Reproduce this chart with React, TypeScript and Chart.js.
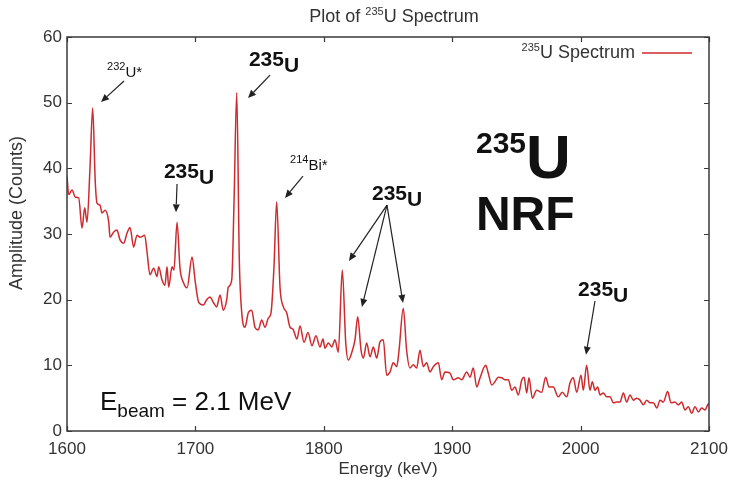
import React, { useEffect, useRef } from "react";
import { Chart, registerables } from "chart.js";

Chart.register(...registerables);

const FONT = '"Liberation Sans", Arial, Helvetica, sans-serif';

// Gamma energies of the measured channels (keV)
const energyKeV = [
  1600, 1601.3, 1603.9, 1606.5, 1609.1, 1611.7, 1613.8, 1615.6, 1617.9, 1620.0,
  1622.0, 1623.4, 1625.7, 1627.3, 1629.6, 1632.5, 1633.5, 1636.4, 1638.9, 1641.3,
  1644.2, 1646.7, 1649.1, 1651.9, 1654.5, 1656.9, 1660.5, 1662.3, 1664.6, 1667.5,
  1670.1, 1671.4, 1674.0, 1676.3, 1677.9, 1679.2, 1681.8, 1683.3, 1685.7, 1688.0,
  1690.9, 1693.5, 1697.4, 1699.9, 1702.6, 1706.2, 1708.8, 1711.4, 1713.9, 1716.6,
  1719.2, 1721.7, 1724.4, 1725.6, 1728.3, 1730.1, 1732.2, 1734.2, 1736.1, 1738.6,
  1741.2, 1743.8, 1746.4, 1749.0, 1751.6, 1754.2, 1756.8, 1758.9, 1761.2, 1763.3,
  1765.9, 1768.5, 1771.1, 1773.7, 1776.0, 1779.1, 1781.5, 1784.6, 1787.7, 1790.8,
  1793.9, 1797.0, 1799.4, 1800.9, 1803.5, 1806.2, 1808.7, 1811.3, 1814.4, 1817.1,
  1819.1, 1821.7, 1824.3, 1826.4, 1829.0, 1830.8, 1833.4, 1836.0, 1838.6, 1841.2,
  1843.8, 1846.3, 1849.0, 1851.6, 1854.1, 1856.8, 1858.6, 1861.9, 1864.5, 1867.1,
  1869.7, 1872.3, 1874.9, 1877.5, 1880.1, 1882.7, 1885.3, 1889.2, 1891.8, 1894.4,
  1898.3, 1900.9, 1904.7, 1907.4, 1911.3, 1913.9, 1916.4, 1919.1, 1921.7, 1926.1,
  1928.1, 1930.8, 1933.3, 1935.9, 1938.6, 1941.1, 1943.7, 1946.4, 1948.9, 1951.5,
  1954.2, 1956.0, 1958.0, 1959.8, 1962.4, 1965.8, 1969.7, 1972.8, 1975.4, 1978.7,
  1982.6, 1985.7, 1989.2, 1991.7, 1994.3, 1997.0, 2000.3, 2002.1, 2004.7, 2007.3,
  2009.1, 2011.2, 2013.3, 2015.1, 2017.7, 2020.3, 2022.9, 2025.5, 2028.1, 2030.7,
  2033.3, 2035.9, 2038.5, 2041.1, 2043.7, 2046.3, 2048.9, 2051.5, 2054.1, 2056.7,
  2059.4, 2061.9, 2064.4, 2067.8, 2070.4, 2073.5, 2076.1, 2078.7, 2081.3, 2083.9,
  2086.5, 2089.1, 2091.7, 2094.3, 2096.9, 2099.0, 2100,
];

// Detector amplitude at each energy (counts)
const counts = [
  38.8, 36.0, 36.7, 35.6, 35.5, 30.9, 34.0, 31.8, 40.0, 49.2,
  38.0, 34.7, 34.4, 33.2, 33.6, 31.8, 29.5, 30.3, 30.6, 29.1,
  28.6, 30.1, 31.0, 28.0, 29.8, 29.5, 29.8, 27.3, 23.8, 24.8,
  23.5, 25.0, 23.0, 22.2, 25.0, 21.9, 25.0, 24.5, 31.8, 24.8,
  22.5, 21.8, 26.5, 22.7, 19.6, 19.2, 20.0, 20.4, 19.6, 18.9,
  20.7, 18.4, 20.0, 21.9, 23.0, 35.0, 51.5, 26.0, 18.0, 15.8,
  18.0, 18.4, 15.8, 15.4, 16.9, 15.8, 17.2, 18.0, 25.0, 34.9,
  21.9, 18.9, 18.0, 15.8, 15.5, 14.0, 16.0, 13.5, 15.0, 13.0,
  14.5, 12.8, 14.0, 12.6, 13.4, 12.8, 13.9, 12.0, 24.5, 13.4,
  10.8, 11.9, 13.9, 17.4, 12.3, 11.1, 13.4, 11.3, 12.8, 11.1,
  13.6, 13.9, 8.5, 9.0, 10.4, 9.8, 12.3, 18.7, 12.3, 9.6,
  10.1, 9.6, 12.3, 9.8, 10.4, 9.0, 9.8, 10.4, 7.8, 9.0,
  8.8, 7.8, 8.1, 7.8, 9.0, 8.2, 9.6, 6.7, 8.1, 10.0,
  8.8, 7.0, 7.5, 8.2, 8.1, 7.8, 7.8, 6.2, 6.7, 5.5,
  7.8, 8.2, 5.8, 8.1, 5.0, 6.2, 5.9, 8.2, 6.7, 6.7,
  5.2, 5.9, 5.2, 7.3, 8.1, 5.9, 8.5, 6.2, 10.0, 6.2,
  7.5, 6.2, 6.7, 5.5, 5.8, 5.2, 5.2, 4.3, 4.4, 4.4,
  5.8, 4.4, 5.5, 4.7, 5.0, 4.7, 4.0, 4.7, 4.3, 4.3,
  3.5, 4.7, 4.4, 6.0, 4.3, 4.4, 4.0, 4.4, 3.2, 3.7,
  2.7, 3.7, 2.9, 3.5, 3.2, 4.0, 4.2,
];

const energyAxis = { min: 1600, max: 2100, step: 100 };
const countAxis = { min: 0, max: 60, step: 10 };

type Seg = { t: string; size: number; bold?: boolean; dy?: number };
type Pt = [number, number]; // [keV, counts]

const sup = (t: string, size = 11): Seg => ({ t, size, dy: -7 });
const iso235: Seg[] = [
  { t: "235", size: 21, bold: true },
  { t: "U", size: 21, bold: true, dy: 6 },
];

// Text notes placed in data space (left edge, baseline)
const notes: { at: Pt; segs: Seg[] }[] = [
  { at: [1631.2, 53.9], segs: [sup("232"), { t: "U*", size: 15 }] },
  { at: [1741.7, 55.6], segs: iso235 },
  { at: [1675.5, 38.5], segs: iso235 },
  { at: [1773.7, 39.7], segs: [sup("214"), { t: "Bi*", size: 15 }] },
  { at: [1837.5, 35.2], segs: iso235 },
  { at: [1998.0, 20.6], segs: iso235 },
  {
    at: [1918.5, 38.6],
    segs: [
      { t: "235", size: 30, bold: true, dy: -25 },
      { t: "U", size: 62, bold: true },
    ],
  },
  { at: [1918.5, 30.6], segs: [{ t: "NRF", size: 48, bold: true }] },
  {
    at: [1625.7, 3.2],
    segs: [
      { t: "E", size: 26 },
      { t: "beam", size: 19, dy: 7 },
      { t: " = 2.1 MeV", size: 26 },
    ],
  },
];

// Arrows pointing from the notes to the peaks
const arrows: { from: Pt; to: Pt }[] = [
  { from: [1644.4, 53.3], to: [1626.5, 50.1] },
  { from: [1758.1, 54.2], to: [1741.0, 50.7] },
  { from: [1685.7, 37.6], to: [1684.9, 33.3] },
  { from: [1783.8, 38.8], to: [1769.8, 35.5] },
  { from: [1849.2, 34.4], to: [1819.6, 25.9] },
  { from: [1849.2, 34.4], to: [1829.7, 18.9] },
  { from: [1849.2, 34.4], to: [1861.7, 19.5] },
  { from: [2011.2, 19.8], to: [2004.2, 11.6] },
];

const LINE_COLOR = "#cf2a2e";

const fontOf = (s: Seg) => `${s.bold ? "bold " : ""}${s.size}px ${FONT}`;

function richWidth(ctx: CanvasRenderingContext2D, segs: Seg[]) {
  let w = 0;
  for (const s of segs) {
    ctx.font = fontOf(s);
    w += ctx.measureText(s.t).width;
  }
  return w;
}

function drawRich(ctx: CanvasRenderingContext2D, x: number, y: number, segs: Seg[]) {
  let cx = x;
  ctx.textAlign = "left";
  ctx.textBaseline = "alphabetic";
  for (const s of segs) {
    ctx.font = fontOf(s);
    ctx.fillText(s.t, cx, y + (s.dy || 0));
    cx += ctx.measureText(s.t).width;
  }
}

function drawArrow(ctx: CanvasRenderingContext2D, x1: number, y1: number, x2: number, y2: number) {
  const ang = Math.atan2(y2 - y1, x2 - x1);
  const head = 8;
  const half = 3.5;
  const bx = x2 - head * Math.cos(ang);
  const by = y2 - head * Math.sin(ang);
  ctx.beginPath();
  ctx.moveTo(x1, y1);
  ctx.lineTo(bx, by);
  ctx.stroke();
  ctx.beginPath();
  ctx.moveTo(x2, y2);
  ctx.lineTo(bx + half * Math.sin(ang), by - half * Math.cos(ang));
  ctx.lineTo(bx - half * Math.sin(ang), by + half * Math.cos(ang));
  ctx.closePath();
  ctx.fill();
}

const decorations = {
  id: "decorations",
  afterDraw(chart: any) {
    const { ctx, chartArea: a, scales } = chart;
    const x = scales.x;
    const y = scales.y;
    ctx.save();

    // frame with inward ticks on all sides
    ctx.strokeStyle = "#3a3a3a";
    ctx.lineWidth = 1.5;
    ctx.strokeRect(a.left, a.top, a.right - a.left, a.bottom - a.top);
    ctx.lineWidth = 1.2;
    ctx.beginPath();
    for (const t of x.ticks) {
      const px = Math.round(x.getPixelForValue(t.value)) + 0.5;
      ctx.moveTo(px, a.bottom);
      ctx.lineTo(px, a.bottom - 5);
      ctx.moveTo(px, a.top);
      ctx.lineTo(px, a.top + 5);
    }
    for (const t of y.ticks) {
      const py = Math.round(y.getPixelForValue(t.value)) + 0.5;
      ctx.moveTo(a.left, py);
      ctx.lineTo(a.left + 5, py);
      ctx.moveTo(a.right, py);
      ctx.lineTo(a.right - 5, py);
    }
    ctx.stroke();

    // title
    ctx.fillStyle = "#333";
    const title: Seg[] = [{ t: "Plot of ", size: 18 }, sup("235"), { t: "U Spectrum", size: 18 }];
    const tw = richWidth(ctx, title);
    drawRich(ctx, 394 - tw / 2, 22, title);

    // y-axis title
    ctx.save();
    ctx.translate(22, 213);
    ctx.rotate(-Math.PI / 2);
    ctx.font = `18px ${FONT}`;
    ctx.textAlign = "center";
    ctx.textBaseline = "alphabetic";
    ctx.fillText("Amplitude (Counts)", 0, 0);
    ctx.restore();

    // legend
    const legend: Seg[] = [sup("235"), { t: "U Spectrum", size: 18 }];
    const lw = richWidth(ctx, legend);
    drawRich(ctx, a.right - 74 - lw, a.top + 21, legend);
    ctx.strokeStyle = LINE_COLOR;
    ctx.lineWidth = 1.3;
    ctx.beginPath();
    ctx.moveTo(a.right - 67, a.top + 16);
    ctx.lineTo(a.right - 17, a.top + 16);
    ctx.stroke();

    // notes and arrows
    ctx.fillStyle = "#111";
    for (const n of notes) {
      drawRich(ctx, x.getPixelForValue(n.at[0]), y.getPixelForValue(n.at[1]), n.segs);
    }
    ctx.strokeStyle = "#222";
    ctx.fillStyle = "#222";
    ctx.lineWidth = 1.2;
    for (const ar of arrows) {
      drawArrow(
        ctx,
        x.getPixelForValue(ar.from[0]),
        y.getPixelForValue(ar.from[1]),
        x.getPixelForValue(ar.to[0]),
        y.getPixelForValue(ar.to[1])
      );
    }
    ctx.restore();
  },
};

export default function App() {
  const ref = useRef<HTMLCanvasElement>(null);

  useEffect(() => {
    const points = energyKeV.map((e, i) => ({ x: e, y: counts[i] }));
    const chart = new Chart(ref.current as HTMLCanvasElement, {
      type: "line",
      data: {
        datasets: [
          {
            label: "235U Spectrum",
            data: points,
            borderColor: LINE_COLOR,
            borderWidth: 1.5,
            pointRadius: 0,
            cubicInterpolationMode: "monotone",
            fill: false,
          },
        ],
      },
      options: {
        animation: false,
        responsive: false,
        devicePixelRatio: 1,
        layout: { padding: { top: 37, right: 22, bottom: 0, left: 0 } },
        plugins: { legend: { display: false }, title: { display: false }, tooltip: { enabled: false } },
        scales: {
          x: {
            type: "linear",
            min: energyAxis.min,
            max: energyAxis.max,
            grid: { display: false, drawTicks: false },
            border: { display: false },
            ticks: {
              stepSize: energyAxis.step,
              padding: 8,
              color: "#333",
              font: { family: FONT, size: 17 },
              maxRotation: 0,
              callback: (v: any) => String(v),
            },
            title: {
              display: true,
              text: "Energy (keV)",
              color: "#333",
              font: { family: FONT, size: 17 },
              padding: { top: 0, bottom: 7 },
            },
            afterFit: (s: any) => {
              s.height = 56;
              s.paddingLeft = 0;
              s.paddingRight = 0;
            },
          },
          y: {
            type: "linear",
            min: countAxis.min,
            max: countAxis.max,
            grid: { display: false, drawTicks: false },
            border: { display: false },
            ticks: {
              stepSize: countAxis.step,
              padding: 5,
              color: "#333",
              font: { family: FONT, size: 17 },
              callback: (v: any) => String(v),
            },
            title: { display: false },
            afterFit: (s: any) => {
              s.width = 67;
              s.paddingTop = 0;
              s.paddingBottom = 0;
            },
          },
        },
      },
      plugins: [decorations],
    });
    return () => chart.destroy();
  }, []);

  return (
    <div style={{ position: "absolute", left: 0, top: 0, width: 731, height: 487, background: "#fff" }}>
      <canvas ref={ref} width={731} height={487} style={{ display: "block" }} />
    </div>
  );
}
